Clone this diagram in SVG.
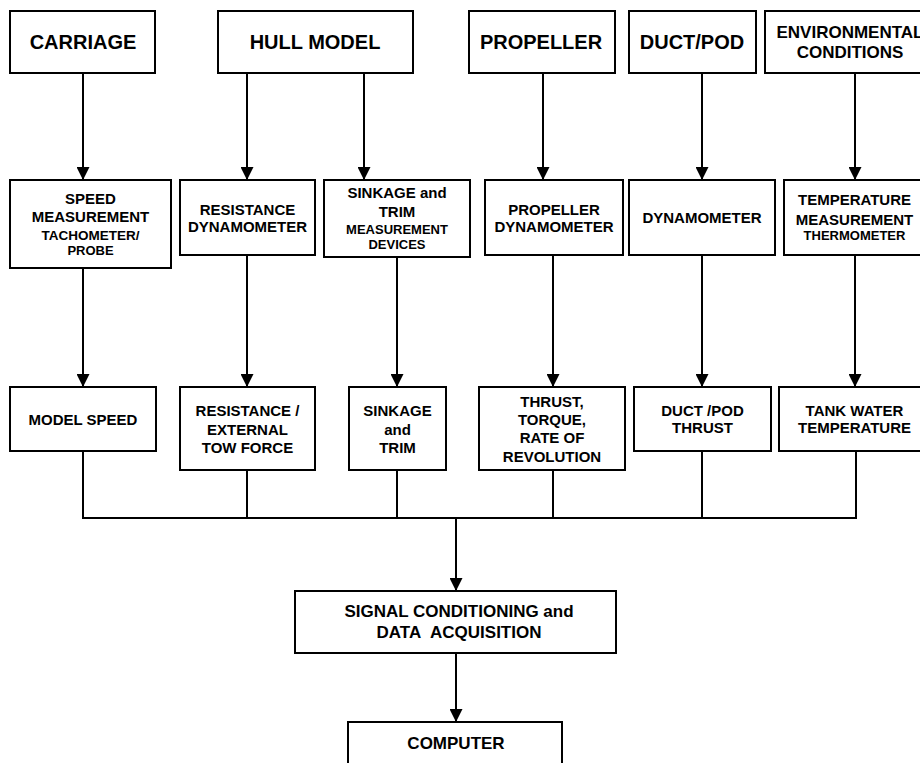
<svg xmlns="http://www.w3.org/2000/svg" width="920" height="763" viewBox="0 0 920 763">
<style>
.box{fill:#fff;stroke:#000;stroke-width:2}
.ln{fill:none;stroke:#000;stroke-width:2}
.ar{fill:none;stroke:#000;stroke-width:2;marker-end:url(#ah)}
text{font-family:"Liberation Sans",Arial,sans-serif;font-weight:bold;text-anchor:middle;fill:#000}
.t20{font-size:20px}
.t17{font-size:17px}
.t15{font-size:15px}
.t13{font-size:13px}
</style>
<defs>
<marker id="ah" markerUnits="userSpaceOnUse" markerWidth="13" markerHeight="13" refX="13" refY="6.5" orient="auto">
<path d="M0,0 L13,6.5 L0,13 z" fill="#000"/>
</marker>
</defs>
<rect width="920" height="763" fill="#fff"/>
<g id="connectors">
<line class="ar" x1="83" y1="73" x2="83" y2="180"/>
<line class="ar" x1="247" y1="73" x2="247" y2="180"/>
<line class="ar" x1="364" y1="73" x2="364" y2="180"/>
<line class="ar" x1="543" y1="73" x2="543" y2="180"/>
<line class="ar" x1="702" y1="73" x2="702" y2="180"/>
<line class="ar" x1="855" y1="73" x2="855" y2="180"/>
<line class="ar" x1="83" y1="268" x2="83" y2="387"/>
<line class="ar" x1="247" y1="255" x2="247" y2="387"/>
<line class="ar" x1="397" y1="257" x2="397" y2="387"/>
<line class="ar" x1="553" y1="255" x2="553" y2="387"/>
<line class="ar" x1="702" y1="255" x2="702" y2="387"/>
<line class="ar" x1="855" y1="255" x2="855" y2="387"/>
<polyline class="ln" points="83,451 83,518 856,518 856,451"/>
<line class="ln" x1="247" y1="470" x2="247" y2="518"/>
<line class="ln" x1="397" y1="470" x2="397" y2="518"/>
<line class="ln" x1="553" y1="470" x2="553" y2="518"/>
<line class="ln" x1="702" y1="451" x2="702" y2="518"/>
<line class="ar" x1="456" y1="518" x2="456" y2="591"/>
<line class="ar" x1="456" y1="653" x2="456" y2="722"/>
</g>
<g id="carriage">
<rect class="box" x="10" y="11" width="145" height="62"/>
<text class="t20" x="83" y="49">CARRIAGE</text>
</g>
<g id="hull-model">
<rect class="box" x="218" y="11" width="195" height="62"/>
<text class="t20" x="315" y="49">HULL MODEL</text>
</g>
<g id="propeller">
<rect class="box" x="469" y="11" width="146" height="62"/>
<text class="t20" x="541" y="49">PROPELLER</text>
</g>
<g id="duct-pod">
<rect class="box" x="629" y="11" width="127" height="62"/>
<text class="t20" x="692" y="49">DUCT/POD</text>
</g>
<g id="environmental">
<rect class="box" x="765" y="11" width="170" height="62"/>
<text class="t17" x="850" y="38">ENVIRONMENTAL</text>
<text class="t17" x="850" y="58">CONDITIONS</text>
</g>
<g id="speed-measurement">
<rect class="box" x="10" y="180" width="161" height="88"/>
<text class="t15" x="90.5" y="204">SPEED</text>
<text class="t15" x="90.5" y="222">MEASUREMENT</text>
<text class="t13" x="90.5" y="240" style="font-size:13.5px">TACHOMETER/</text>
<text class="t13" x="90.5" y="255">PROBE</text>
</g>
<g id="resistance-dynamometer">
<rect class="box" x="180" y="180" width="135" height="75"/>
<text class="t15" x="247.5" y="215">RESISTANCE</text>
<text class="t15" x="247.5" y="232">DYNAMOMETER</text>
</g>
<g id="sinkage-trim-devices">
<rect class="box" x="324" y="180" width="146" height="77"/>
<text class="t15" x="397" y="198">SINKAGE and</text>
<text class="t15" x="397" y="217">TRIM</text>
<text class="t13" x="397" y="234">MEASUREMENT</text>
<text class="t13" x="397" y="249">DEVICES</text>
</g>
<g id="propeller-dynamometer">
<rect class="box" x="485" y="180" width="138" height="75"/>
<text class="t15" x="554" y="215">PROPELLER</text>
<text class="t15" x="554" y="232">DYNAMOMETER</text>
</g>
<g id="dynamometer">
<rect class="box" x="629" y="180" width="146" height="75"/>
<text class="t15" x="702" y="223">DYNAMOMETER</text>
</g>
<g id="temperature-measurement">
<rect class="box" x="784" y="180" width="150" height="75"/>
<text class="t15" x="854.5" y="205">TEMPERATURE</text>
<text class="t15" x="854.5" y="225">MEASUREMENT</text>
<text class="t13" x="854.5" y="240">THERMOMETER</text>
</g>
<g id="model-speed">
<rect class="box" x="10" y="387" width="146" height="64"/>
<text class="t15" x="83" y="425">MODEL SPEED</text>
</g>
<g id="resistance-tow-force">
<rect class="box" x="180" y="387" width="135" height="83"/>
<text class="t15" x="247.5" y="416">RESISTANCE /</text>
<text class="t15" x="247.5" y="435">EXTERNAL</text>
<text class="t15" x="247.5" y="453">TOW FORCE</text>
</g>
<g id="sinkage-trim">
<rect class="box" x="349" y="387" width="97" height="83"/>
<text class="t15" x="397.5" y="416">SINKAGE</text>
<text class="t15" x="397.5" y="435">and</text>
<text class="t15" x="397.5" y="453">TRIM</text>
</g>
<g id="thrust-torque">
<rect class="box" x="479" y="387" width="146" height="83"/>
<text class="t15" x="552" y="407">THRUST,</text>
<text class="t15" x="552" y="425">TORQUE,</text>
<text class="t15" x="552" y="443">RATE OF</text>
<text class="t15" x="552" y="462">REVOLUTION</text>
</g>
<g id="duct-pod-thrust">
<rect class="box" x="634" y="387" width="137" height="64"/>
<text class="t15" x="702.5" y="416">DUCT /POD</text>
<text class="t15" x="702.5" y="433">THRUST</text>
</g>
<g id="tank-water-temperature">
<rect class="box" x="779" y="387" width="155" height="64"/>
<text class="t15" x="854.5" y="416">TANK WATER</text>
<text class="t15" x="854.5" y="433">TEMPERATURE</text>
</g>
<g id="signal-conditioning">
<rect class="box" x="295" y="591" width="321" height="62"/>
<text class="t17" x="459" y="617">SIGNAL CONDITIONING and</text>
<text class="t17" x="459" y="638">DATA&#160; ACQUISITION</text>
</g>
<g id="computer">
<rect class="box" x="348" y="722" width="214" height="60"/>
<text class="t17" x="456" y="749">COMPUTER</text>
</g>
</svg>
